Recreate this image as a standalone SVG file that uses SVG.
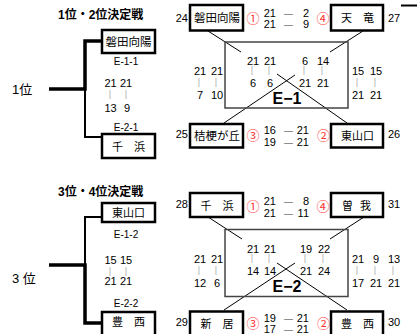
<svg xmlns="http://www.w3.org/2000/svg" width="417" height="334" viewBox="0 0 417 334">
<style>
text{font-family:"Liberation Sans","Noto Sans CJK JP",sans-serif;fill:#000}
.nm{font-size:11.5px;text-anchor:middle}
.sc{font-size:11px}
.c{text-anchor:middle}
.r{text-anchor:end}
.d{font-size:9px;text-anchor:middle;fill:#333}
.bar{font-size:9px;fill:#aaa;text-anchor:middle}
.cir{font-size:13px;fill:#f33;text-anchor:middle}
.ttl{font-size:12px;font-weight:bold}
.big{font-size:16px;font-weight:bold;text-anchor:middle}
.box{fill:#fff;stroke:#000;stroke-width:2.5}
.ln{stroke:#000;stroke-width:1;fill:none}
.frame{fill:none;stroke:#444;stroke-width:1.5}
.thick{stroke:#000;stroke-width:3.5;fill:none}
.thin{stroke:#000;stroke-width:2;fill:none}
</style>

<!-- connectors -->
<g id="connectors">
  <polyline class="thick" points="49,89 85,89 85,41 102,41"/>
  <polyline class="thin" points="85,89 85,137 102,137"/>
  <polyline class="thin" points="102,217 85,217 85,265"/>
  <polyline class="thick" points="49,265 85,265 85,323 102,323"/>
  <line class="ln" x1="208" y1="31" x2="241" y2="52"/>
  <line class="ln" x1="363" y1="31" x2="330" y2="52"/>
  <line class="ln" x1="224" y1="123" x2="295" y2="75"/>
  <line class="ln" x1="277" y1="74" x2="347" y2="123"/>
  <line class="ln" x1="208" y1="217" x2="242" y2="239"/>
  <line class="ln" x1="364" y1="217" x2="330" y2="239"/>
  <line class="ln" x1="224" y1="310" x2="295" y2="263"/>
  <line class="ln" x1="277" y1="263" x2="347" y2="310"/>
  <line x1="401" y1="5.5" x2="417" y2="5.5" stroke="#000" stroke-width="2"/>
</g>

<!-- left side 1/2 -->
<text class="ttl" x="58" y="19">1位・2位決定戦</text>
<text x="12" y="94" style="font-size:13px">1位</text>
<g id="L-iwata">
  <rect class="box" x="102" y="30" width="53" height="23"/>
  <text class="nm" x="128.5" y="46">磐田向陽</text>
</g>
<text class="sc c" x="126" y="65" style="font-size:10px">E-1-1</text>
<text class="sc c" x="110.5" y="87">21</text>
<text class="sc c" x="126" y="87">21</text>
<text class="bar" x="110" y="97">|</text>
<text class="bar" x="126" y="97">|</text>
<text class="sc c" x="110.5" y="112">13</text>
<text class="sc c" x="127" y="112">9</text>
<text class="sc c" x="126" y="131" style="font-size:10px">E-2-1</text>
<g id="L-chihama">
  <rect class="box" x="102" y="134" width="53" height="24"/>
  <text class="nm" x="128.5" y="151" style="font-size:11px">千　浜</text>
</g>

<!-- left side 3/4 -->
<text class="ttl" x="58" y="196">3位・4位決定戦</text>
<text x="12" y="283" style="font-size:13px">3 位</text>
<g id="L-higashi">
  <rect class="box" x="102" y="203" width="53" height="19"/>
  <text class="nm" x="128.5" y="217" style="font-size:11px">東山口</text>
</g>
<text class="sc c" x="126" y="238" style="font-size:10px">E-1-2</text>
<text class="sc c" x="110.5" y="264">15</text>
<text class="sc c" x="126" y="264">15</text>
<text class="bar" x="110" y="274">|</text>
<text class="bar" x="126" y="274">|</text>
<text class="sc c" x="110.5" y="285">21</text>
<text class="sc c" x="126" y="285">21</text>
<text class="sc c" x="126" y="307" style="font-size:10px">E-2-2</text>
<g id="L-toyonishi">
  <rect class="box" x="102" y="312" width="53" height="30"/>
  <text class="nm" x="128.5" y="326" style="font-size:11px">豊　西</text>
</g>

<!-- E-1 block -->
<rect class="frame" x="225" y="42" width="123" height="66"/>
<text class="big" x="287" y="104">E−1</text>
<g id="E1-iwata">
  <text class="sc r" x="188" y="22">24</text>
  <rect class="box" x="190" y="5" width="53" height="25.5"/>
  <text class="nm" x="217" y="22">磐田向陽</text>
  <text class="cir" x="253" y="23">①</text>
</g>
<g id="E1-tenryu">
  <text class="cir" x="323" y="23">④</text>
  <rect class="box" x="331" y="5" width="52" height="25.5"/>
  <text class="nm" x="357.5" y="22" style="font-size:11px">天　竜</text>
  <text class="sc" x="388" y="22">27</text>
</g>
<g id="E1-kikyo">
  <text class="sc r" x="188" y="138">25</text>
  <rect class="box" x="190" y="124" width="53" height="23.5"/>
  <text class="nm" x="217" y="140">桔梗が丘</text>
  <text class="cir" x="253" y="140">③</text>
</g>
<g id="E1-higashi">
  <text class="cir" x="323.5" y="140">②</text>
  <rect class="box" x="331" y="124" width="52" height="23.5"/>
  <text class="nm" x="357.5" y="140" style="font-size:11px">東山口</text>
  <text class="sc" x="388" y="138">26</text>
</g>
<g class="sc">
  <text class="r" x="276" y="17">21</text><text class="d" x="288.5" y="16.5">—</text><text class="r" x="309" y="17">2</text>
  <text class="r" x="276" y="28">21</text><text class="d" x="288.5" y="27.5">—</text><text class="r" x="309" y="28">9</text>
  <text class="r" x="276" y="134">16</text><text class="d" x="288.5" y="133.5">—</text><text class="r" x="309" y="134">21</text>
  <text class="r" x="276" y="146">19</text><text class="d" x="288.5" y="145.5">—</text><text class="r" x="309" y="146">21</text>
  <text class="c" x="253" y="64.5">21</text><text class="c" x="270" y="64.5">21</text>
  <text class="c" x="305" y="64.5">6</text><text class="c" x="323" y="64.5">14</text>
  <text class="c" x="253" y="87">6</text><text class="c" x="270" y="87">6</text>
  <text class="c" x="305" y="87">21</text><text class="c" x="323" y="87">21</text>
  <text class="c" x="200" y="75">21</text><text class="c" x="217" y="75">21</text>
  <text class="c" x="200" y="99">7</text><text class="c" x="217" y="99">10</text>
  <text class="c" x="358" y="75">15</text><text class="c" x="376" y="75">15</text>
  <text class="c" x="358" y="99">21</text><text class="c" x="376" y="99">21</text>
</g>
<g>
  <text class="bar" x="252" y="73">|</text><text class="bar" x="269" y="73">|</text>
  <text class="bar" x="304" y="73">|</text><text class="bar" x="322" y="73">|</text>
  <text class="bar" x="199" y="85">|</text><text class="bar" x="216" y="85">|</text>
  <text class="bar" x="357" y="85">|</text><text class="bar" x="375" y="85">|</text>
</g>

<!-- E-2 block -->
<rect class="frame" x="225" y="229.5" width="123" height="67"/>
<text class="big" x="287" y="292">E−2</text>
<g id="E2-chihama">
  <text class="sc r" x="188" y="208">28</text>
  <rect class="box" x="190" y="193" width="53" height="24"/>
  <text class="nm" x="217" y="210" style="font-size:11px">千　浜</text>
  <text class="cir" x="253" y="211">①</text>
</g>
<g id="E2-soga">
  <text class="cir" x="323" y="211">④</text>
  <rect class="box" x="331" y="193" width="52" height="24"/>
  <text class="nm" x="357.5" y="210" style="font-size:11px;letter-spacing:2px">曽 我</text>
  <text class="sc" x="388" y="208">31</text>
</g>
<g id="E2-arai">
  <text class="sc r" x="188" y="326">29</text>
  <rect class="box" x="190" y="311.5" width="53" height="30"/>
  <text class="nm" x="217" y="328" style="font-size:11px">新　居</text>
  <text class="cir" x="253" y="328">③</text>
</g>
<g id="E2-toyonishi">
  <text class="cir" x="323.5" y="328">②</text>
  <rect class="box" x="331" y="311.5" width="52" height="30"/>
  <text class="nm" x="357.5" y="328" style="font-size:11px">豊　西</text>
  <text class="sc" x="388" y="326">30</text>
</g>
<g class="sc">
  <text class="r" x="276" y="205">21</text><text class="d" x="288.5" y="204.5">—</text><text class="r" x="309" y="205">8</text>
  <text class="r" x="276" y="217">21</text><text class="d" x="288.5" y="216.5">—</text><text class="r" x="309" y="217">11</text>
  <text class="r" x="276" y="322">19</text><text class="d" x="288.5" y="321.5">—</text><text class="r" x="309" y="322">21</text>
  <text class="r" x="276" y="333">17</text><text class="d" x="288.5" y="332.5">—</text><text class="r" x="309" y="333">21</text>
  <text class="c" x="253" y="252.5">21</text><text class="c" x="270" y="252.5">21</text>
  <text class="c" x="306" y="252.5">19</text><text class="c" x="324" y="252.5">22</text>
  <text class="c" x="253" y="275">14</text><text class="c" x="270" y="275">14</text>
  <text class="c" x="306" y="275">21</text><text class="c" x="324" y="275">24</text>
  <text class="c" x="200" y="263">21</text><text class="c" x="217" y="263">21</text>
  <text class="c" x="200" y="287">12</text><text class="c" x="217" y="287">6</text>
  <text class="c" x="358" y="263">21</text><text class="c" x="376" y="263">9</text><text class="c" x="394" y="263">13</text>
  <text class="c" x="358" y="287">17</text><text class="c" x="376" y="287">21</text><text class="c" x="394" y="287">21</text>
</g>
<g>
  <text class="bar" x="252" y="261">|</text><text class="bar" x="269" y="261">|</text>
  <text class="bar" x="305" y="261">|</text><text class="bar" x="323" y="261">|</text>
  <text class="bar" x="199" y="273">|</text><text class="bar" x="216" y="273">|</text>
  <text class="bar" x="357" y="273">|</text><text class="bar" x="375" y="273">|</text><text class="bar" x="393" y="273">|</text>
</g>
</svg>
